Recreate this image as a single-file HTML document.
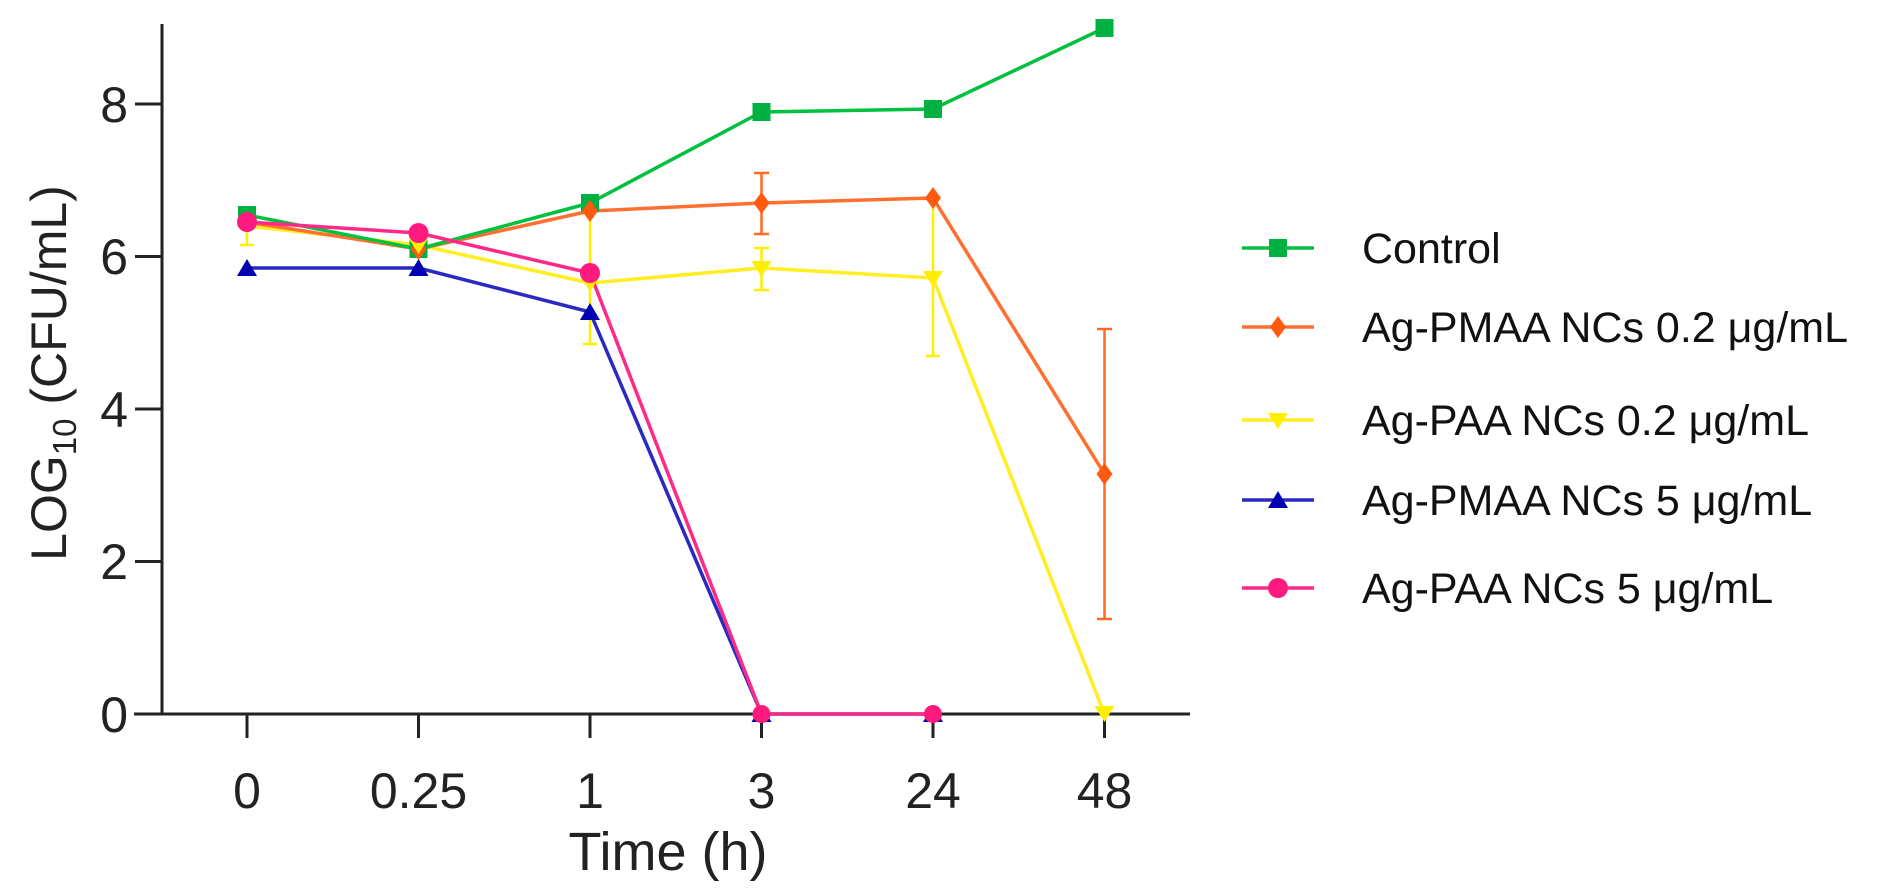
<!DOCTYPE html>
<html><head><meta charset="utf-8"><style>html,body{margin:0;padding:0;background:#fff}svg{display:block}</style></head><body>
<svg width="1895" height="895" viewBox="0 0 1895 895" xmlns="http://www.w3.org/2000/svg" font-family="Liberation Sans, Arial, sans-serif">
<rect width="1895" height="895" fill="#fff"/>
<g stroke="#222" stroke-width="3" fill="none">
<line x1="162" y1="24" x2="162" y2="715"/>
<line x1="134" y1="714" x2="1190" y2="714"/>
<line x1="135" y1="714" x2="162" y2="714"/>
<line x1="135" y1="561.5" x2="162" y2="561.5"/>
<line x1="135" y1="409" x2="162" y2="409"/>
<line x1="135" y1="256.5" x2="162" y2="256.5"/>
<line x1="135" y1="104" x2="162" y2="104"/>
<line x1="247" y1="714" x2="247" y2="738"/>
<line x1="418.5" y1="714" x2="418.5" y2="738"/>
<line x1="590" y1="714" x2="590" y2="738"/>
<line x1="761.5" y1="714" x2="761.5" y2="738"/>
<line x1="933" y1="714" x2="933" y2="738"/>
<line x1="1104.5" y1="714" x2="1104.5" y2="738"/>
</g>
<g font-size="50" fill="#222" text-anchor="end">
<text x="128" y="732">0</text><text x="128" y="579">2</text><text x="128" y="427">4</text><text x="128" y="274">6</text><text x="128" y="122">8</text>
</g>
<g font-size="50" fill="#222" text-anchor="middle">
<text x="247" y="808">0</text><text x="418.5" y="808">0.25</text><text x="590" y="808">1</text><text x="761.5" y="808">3</text><text x="933" y="808">24</text><text x="1104.5" y="808">48</text>
</g>
<text x="668" y="870" font-size="54" fill="#222" text-anchor="middle">Time (h)</text>
<text transform="translate(66,373) rotate(-90)" font-size="50" fill="#222" text-anchor="middle">LOG<tspan font-size="33" dy="10">10</tspan><tspan dy="-10"> (CFU/mL)</tspan></text>

<g stroke="#ffee00" stroke-width="2.5">
<line x1="247" y1="221" x2="247" y2="245"/><line x1="240" y1="245" x2="254" y2="245"/>
<line x1="590" y1="218" x2="590" y2="344"/><line x1="583" y1="344" x2="597" y2="344"/>
<line x1="761.5" y1="248" x2="761.5" y2="290"/><line x1="754" y1="248" x2="769" y2="248"/><line x1="754" y1="290" x2="769" y2="290"/>
<line x1="933" y1="203" x2="933" y2="356"/><line x1="926" y1="356" x2="940" y2="356"/>
</g>
<g stroke="#ff6a22" stroke-width="2.5">
<line x1="761.5" y1="173" x2="761.5" y2="234"/><line x1="754" y1="173" x2="769" y2="173"/><line x1="754" y1="234" x2="769" y2="234"/>
<line x1="1104.5" y1="329" x2="1104.5" y2="619"/><line x1="1097" y1="329" x2="1112" y2="329"/><line x1="1097" y1="619" x2="1112" y2="619"/>
</g>

<g fill="none" stroke-width="3.5" stroke-linejoin="round">
<polyline stroke="#ffee22" points="247,226 418.5,245 590,283 761.5,268 933,278 1104.5,714"/>
<polyline stroke="#ff7030" points="247,222 418.5,249 590,211 761.5,203 933,198 1104.5,474"/>
<polyline stroke="#00c040" points="247,215 418.5,249 590,203 761.5,112 933,109 1104.5,28"/>
<polyline stroke="#2a2ac0" points="247,268 418.5,268 590,312 761.5,714 933,714"/>
<polyline stroke="#ff2a88" points="247,222 418.5,233 590,273 761.5,714 933,714"/>
</g>

<g fill="#00b040">
<rect x="238" y="206" width="18" height="18"/><rect x="409.5" y="240" width="18" height="18"/><rect x="581" y="194" width="18" height="18"/><rect x="752.5" y="103" width="18" height="18"/><rect x="924" y="100" width="18" height="18"/><rect x="1095.5" y="19" width="18" height="18"/>
</g>
<g fill="#ff5a10">
<path d="M247,211 l8,11 l-8,11 l-8,-11z"/><path d="M418.5,238 l8,11 l-8,11 l-8,-11z"/><path d="M590,200 l8,11 l-8,11 l-8,-11z"/><path d="M761.5,192 l8,11 l-8,11 l-8,-11z"/><path d="M933,187 l8,11 l-8,11 l-8,-11z"/><path d="M1104.5,463 l8,11 l-8,11 l-8,-11z"/>
</g>
<g fill="#ffee00">
<path d="M237,219 h20 l-10,16z"/><path d="M408.5,238 h20 l-10,16z"/><path d="M580,276 h20 l-10,16z"/><path d="M751.5,261 h20 l-10,16z"/><path d="M923,271 h20 l-10,16z"/><path d="M1094.5,706 h20 l-10,16z"/>
</g>
<g fill="#0000b0">
<path d="M237,276 h20 l-10,-17z"/><path d="M408.5,276 h20 l-10,-17z"/><path d="M580,320 h20 l-10,-17z"/><path d="M751.5,722 h20 l-10,-17z"/><path d="M923,722 h20 l-10,-17z"/>
</g>
<g fill="#ff1a80">
<circle cx="247" cy="222" r="10"/><circle cx="418.5" cy="233" r="10"/><circle cx="590" cy="273" r="10"/><circle cx="761.5" cy="714" r="9"/><circle cx="933" cy="714" r="9"/>
</g>

<g stroke-width="3.5">
<line x1="1242" y1="248" x2="1314" y2="248" stroke="#00c040"/>
<line x1="1242" y1="327" x2="1314" y2="327" stroke="#ff7030"/>
<line x1="1242" y1="420" x2="1314" y2="420" stroke="#ffee22"/>
<line x1="1242" y1="500" x2="1314" y2="500" stroke="#2a2ac0"/>
<line x1="1242" y1="588" x2="1314" y2="588" stroke="#ff2a88"/>
</g>
<rect x="1269" y="239" width="18" height="18" fill="#00b040"/>
<path d="M1278,316 l8,11 l-8,11 l-8,-11z" fill="#ff5a10"/>
<path d="M1268,413 h20 l-10,16z" fill="#ffee00"/>
<path d="M1268,508 h20 l-10,-17z" fill="#0000b0"/>
<circle cx="1278" cy="588" r="10" fill="#ff1a80"/>
<g font-size="43" fill="#111">
<text x="1362" y="263">Control</text>
<text x="1362" y="342">Ag-PMAA NCs 0.2 μg/mL</text>
<text x="1362" y="435">Ag-PAA NCs 0.2 μg/mL</text>
<text x="1362" y="515">Ag-PMAA NCs 5 μg/mL</text>
<text x="1362" y="603">Ag-PAA NCs 5 μg/mL</text>
</g>
</svg>
</body></html>
